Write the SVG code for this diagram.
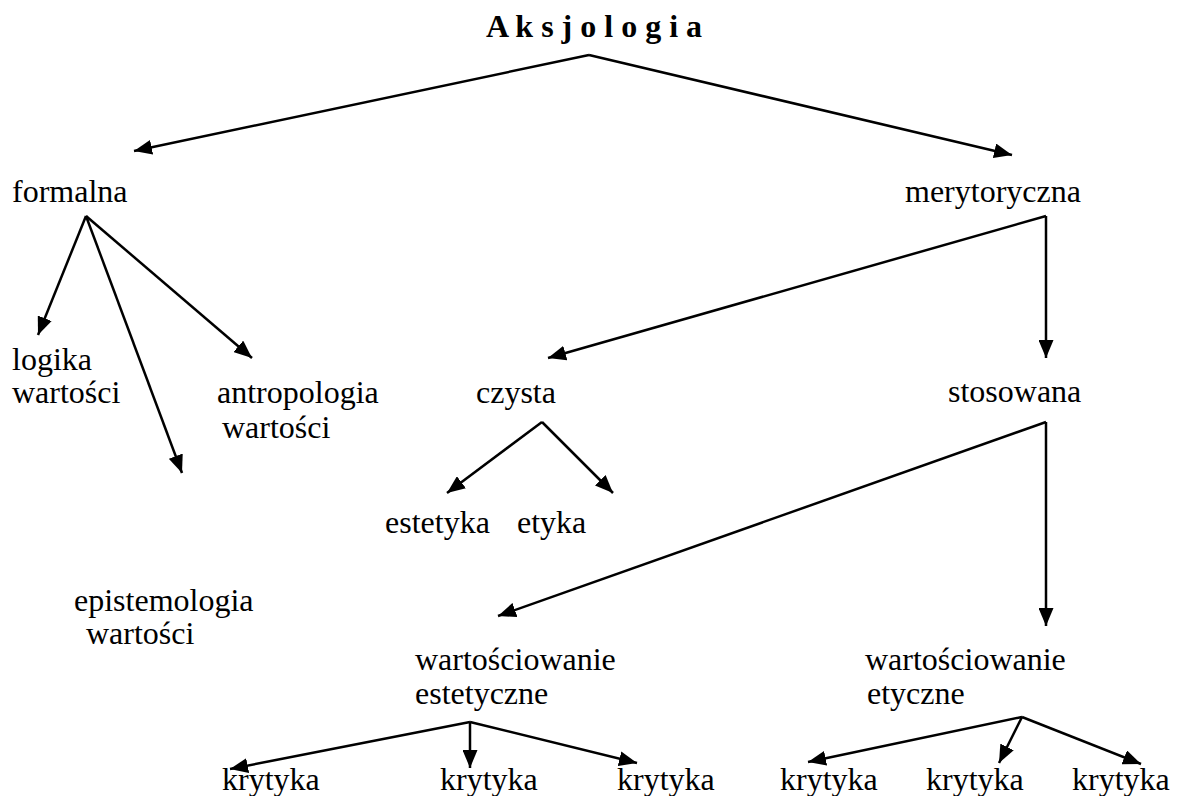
<svg xmlns="http://www.w3.org/2000/svg" width="1183" height="796" viewBox="0 0 1183 796">
<style>
text{font-family:"Liberation Serif","Times New Roman",serif;font-size:32px;fill:#000}
.title{font-weight:bold}
.c line{stroke:#000;stroke-width:2.5;fill:none;marker-end:url(#ah)}
</style>
<defs>
<marker id="ah" viewBox="0 0 18 15" refX="18" refY="7.5" markerWidth="18" markerHeight="15" markerUnits="userSpaceOnUse" orient="auto">
<path d="M0,0 L18,7.5 L0,15 z" fill="#000"/>
</marker>
</defs>
<rect width="1183" height="796" fill="#fff"/>
<g id="connectors" class="c">
<line x1="589" y1="55" x2="134" y2="151"/>
<line x1="589" y1="55" x2="1012" y2="155"/>
<line x1="86" y1="216" x2="38" y2="335"/>
<line x1="86" y1="216" x2="182" y2="473"/>
<line x1="86" y1="216" x2="252" y2="358"/>
<line x1="1046" y1="216" x2="548" y2="358"/>
<line x1="1046" y1="216" x2="1046" y2="358"/>
<line x1="542" y1="422" x2="447" y2="493"/>
<line x1="542" y1="422" x2="613" y2="493"/>
<line x1="1046" y1="422" x2="498" y2="616"/>
<line x1="1046" y1="422" x2="1046" y2="626"/>
<line x1="470" y1="722" x2="230" y2="769"/>
<line x1="470" y1="722" x2="470" y2="768"/>
<line x1="470" y1="722" x2="637" y2="763"/>
<line x1="1022" y1="717" x2="808" y2="762"/>
<line x1="1022" y1="717" x2="999" y2="763"/>
<line x1="1022" y1="717" x2="1141" y2="764"/>
</g>
<g id="aksjologia"><text class="title" x="486" y="37">A k s j o l o g i a</text></g>
<g id="formalna"><text x="12" y="202">formalna</text></g>
<g id="merytoryczna"><text x="905" y="202">merytoryczna</text></g>
<g id="logika"><text x="12" y="370">logika</text><text x="12" y="403">wartości</text></g>
<g id="antropologia"><text x="217" y="403">antropologia</text><text x="222" y="438">wartości</text></g>
<g id="epistemologia"><text x="74" y="611">epistemologia</text><text x="86" y="644">wartości</text></g>
<g id="czysta"><text x="476" y="403">czysta</text></g>
<g id="stosowana"><text x="948" y="402">stosowana</text></g>
<g id="estetyka"><text x="385" y="533">estetyka</text></g>
<g id="etyka"><text x="517" y="533">etyka</text></g>
<g id="wart-estetyczne"><text x="415" y="670">wartościowanie</text><text x="415" y="704">estetyczne</text></g>
<g id="wart-etyczne"><text x="865" y="670">wartościowanie</text><text x="867" y="704">etyczne</text></g>
<g id="krytyka1"><text x="222" y="790">krytyka</text></g>
<g id="krytyka2"><text x="440" y="790">krytyka</text></g>
<g id="krytyka3"><text x="617" y="790">krytyka</text></g>
<g id="krytyka4"><text x="780" y="790">krytyka</text></g>
<g id="krytyka5"><text x="926" y="790">krytyka</text></g>
<g id="krytyka6"><text x="1072" y="790">krytyka</text></g>
</svg>
